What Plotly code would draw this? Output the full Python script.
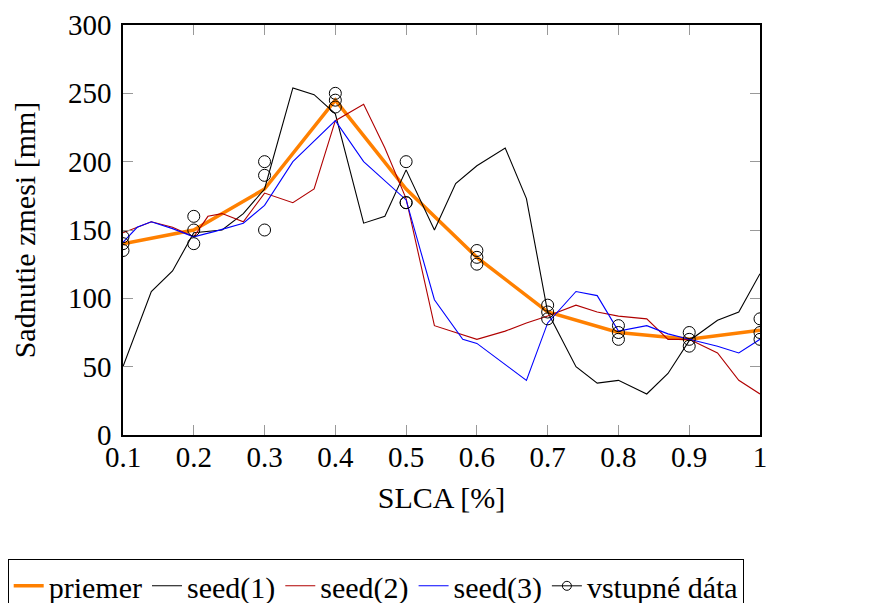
import plotly.graph_objects as go

# input data (three measurements per dose)
x_in = [0.1, 0.2, 0.3, 0.4, 0.5, 0.6, 0.7, 0.8, 0.9, 1.0]
data_a = [145, 160, 200, 250, 200, 135, 95, 80, 75, 85]
data_b = [140, 150, 190, 245, 170, 130, 90, 75, 70, 75]
data_c = [135, 140, 150, 240, 170, 125, 85, 70, 65, 70]

# mean
priemer = [140, 150, 180, 245, 180, 130, 90, 75, 70, 76.7]

# simulated seeds
seed1_x = [0.1, 0.14, 0.17, 0.2, 0.24, 0.27, 0.3, 0.34, 0.37, 0.4, 0.44, 0.47, 0.5, 0.54,
           0.57, 0.6, 0.64, 0.67, 0.7, 0.74, 0.77, 0.8, 0.84, 0.87, 0.9, 0.94, 0.97, 1.0]
seed1_y = [50, 105, 120, 148, 150, 162, 180, 254, 249, 235, 155, 160, 194, 150,
           184, 197, 210, 173, 90, 50, 38, 40, 30, 45, 69, 84, 90, 118]

seed2_x = [0.1, 0.14, 0.17, 0.2, 0.22, 0.24, 0.27, 0.3, 0.34, 0.37, 0.4, 0.44, 0.47, 0.5,
           0.54, 0.57, 0.6, 0.64, 0.67, 0.7, 0.74, 0.77, 0.8, 0.84, 0.87, 0.9, 0.94, 0.97, 1.0]
seed2_y = [148, 156, 152, 145, 160, 162, 156, 177, 170, 180, 230, 242, 210, 173,
           80, 75, 70, 76, 82, 87, 95, 90, 87, 85, 70, 70, 60, 40, 30]

seed3_x = [0.1, 0.12, 0.14, 0.17, 0.2, 0.23, 0.27, 0.3, 0.34, 0.37, 0.4, 0.44, 0.47, 0.5,
           0.54, 0.58, 0.6, 0.67, 0.7, 0.74, 0.77, 0.8, 0.84, 0.87, 0.9, 0.94, 0.97, 1.0]
seed3_y = [141, 152, 156, 151, 145, 149, 155, 168, 200, 215, 230, 200, 186, 172,
           99, 70, 67, 40, 82, 105, 102, 76, 80, 74, 70, 65, 60, 70]

x_ticks = [0.1, 0.2, 0.3, 0.4, 0.5, 0.6, 0.7, 0.8, 0.9, 1.0]
x_ticktext = ["0.1", "0.2", "0.3", "0.4", "0.5", "0.6", "0.7", "0.8", "0.9", "1"]

FONT = "Liberation Serif"

fig = go.Figure()

fig.add_trace(go.Scatter(x=x_in, y=priemer, mode="lines", name="priemer",
                         line=dict(color="#FF8000", width=3.5)))
fig.add_trace(go.Scatter(x=seed1_x, y=seed1_y, mode="lines", name="seed(1)",
                         line=dict(color="black", width=1.1)))
fig.add_trace(go.Scatter(x=seed2_x, y=seed2_y, mode="lines", name="seed(2)",
                         line=dict(color="#B00000", width=1.1)))
fig.add_trace(go.Scatter(x=seed3_x, y=seed3_y, mode="lines", name="seed(3)",
                         line=dict(color="#0000FF", width=1.1)))

# input points (plot markers only, legend shows line+marker)
xs = x_in * 3
ys = data_a + data_b + data_c
fig.add_trace(go.Scatter(x=xs, y=ys, mode="markers", showlegend=False,
                         marker=dict(symbol="circle-open", size=12, color="black",
                                     line=dict(width=1, color="black"))))
fig.add_trace(go.Scatter(x=[None], y=[None], mode="lines+markers", name="vstupné dáta",
                         line=dict(color="black", width=1),
                         marker=dict(symbol="circle-open", size=9, color="black",
                                     line=dict(width=1, color="black"))))

axis_common = dict(
    showline=True, linecolor="black", linewidth=1.5, mirror="ticks",
    ticks="inside", ticklen=10, tickcolor="#999999", tickwidth=1,
    showgrid=False, zeroline=False,
    tickfont=dict(family=FONT, size=29, color="black"),
)

# page body adds 8px offset, margins compensate
fig.update_layout(
    width=876, height=603,
    margin=dict(l=115, r=124, t=17, b=176, autoexpand=False),
    paper_bgcolor="white", plot_bgcolor="white",
    font=dict(family=FONT, color="black"),
    xaxis=dict(range=[0.1, 1.0], tickvals=x_ticks, ticktext=x_ticktext,
               ticklabelstandoff=-5,
               title=dict(text="SLCA [%]", font=dict(family=FONT, size=30), standoff=15),
               **axis_common),
    yaxis=dict(range=[0, 300], tickvals=[0, 50, 100, 150, 200, 250, 300],
               ticklabelstandoff=4,
               title=dict(text="Sadnutie zmesi [mm]", font=dict(family=FONT, size=30), standoff=26),
               **axis_common),
    legend=dict(orientation="h", x=-0.181, xanchor="left", y=-0.302, yanchor="top",
                bordercolor="black", borderwidth=1, bgcolor="white",
                font=dict(family=FONT, size=30, color="black"),
                itemwidth=30, tracegroupgap=0),
)

fig.write_html("out.html")
